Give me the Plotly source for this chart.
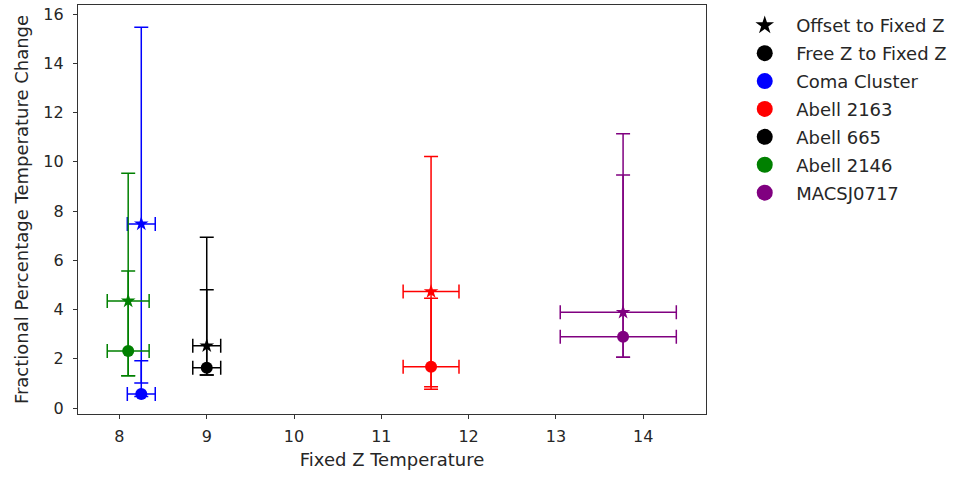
import plotly.graph_objects as go

clusters = ["Coma Cluster", "Abell 2163", "Abell 665", "Abell 2146", "MACSJ0717"]
colors = ["blue", "red", "black", "green", "purple"]
temp = [8.25, 11.57, 9.0, 8.1, 13.77]
temp_err_minus = [0.16, 0.32, 0.16, 0.24, 0.72]
temp_err_plus = [0.16, 0.32, 0.16, 0.24, 0.61]
offset_change = [7.48, 4.73, 2.53, 4.35, 3.89]
offset_err_plus = [7.99, 5.49, 4.41, 5.19, 7.25]
offset_err_minus = [6.46, 3.96, 1.19, 3.04, 1.83]
free_change = [0.57, 1.68, 1.64, 2.32, 2.90]
free_err_plus = [1.35, 2.78, 3.17, 3.25, 6.57]
free_err_minus = [0.10, 0.81, 0.30, 1.01, 0.84]

FONT = "DejaVu Sans"
TXT = "#262626"

fig = go.Figure()

for i, name in enumerate(clusters):
    c = colors[i]
    ex = dict(type="data", symmetric=False, array=[temp_err_plus[i]],
              arrayminus=[temp_err_minus[i]], color=c, thickness=1.5, width=7)
    fig.add_trace(go.Scatter(
        x=[temp[i]], y=[offset_change[i]], mode="markers", showlegend=False,
        marker=dict(symbol="star", size=11, color=c, line=dict(width=0)),
        error_x=ex,
        error_y=dict(type="data", symmetric=False, array=[offset_err_plus[i]],
                     arrayminus=[offset_err_minus[i]], color=c, thickness=1.5, width=7)))
    fig.add_trace(go.Scatter(
        x=[temp[i]], y=[free_change[i]], mode="markers", showlegend=False,
        marker=dict(symbol="circle", size=12, color=c, line=dict(width=0)),
        error_x=ex,
        error_y=dict(type="data", symmetric=False, array=[free_err_plus[i]],
                     arrayminus=[free_err_minus[i]], color=c, thickness=1.5, width=7)))

legend_names = ["Offset to Fixed Z", "Free Z to Fixed Z"] + clusters
legend_symbols = ["star", "circle"] + ["circle"] * len(clusters)
legend_colors = ["black", "black"] + colors
for k, (n, s, c) in enumerate(zip(legend_names, legend_symbols, legend_colors)):
    fig.add_trace(go.Scatter(
        x=[None], y=[None], mode="markers", name="\u00a0\u00a0" + n, legendgroup=f"g{k}",
        marker=dict(symbol=s, size=16 if s == "circle" else 14, color=c, line=dict(width=0))))

axis_common = dict(showline=True, linecolor="#333333", linewidth=1.2, mirror=True,
                   ticks="outside", ticklen=4, tickcolor="#333333", showgrid=False,
                   zeroline=False, tickfont=dict(family=FONT, size=16, color=TXT))

fig.update_layout(
    width=956, height=478,
    margin=dict(l=78, r=249, t=5, b=64),
    paper_bgcolor="white", plot_bgcolor="white",
    font=dict(family=FONT, size=18, color=TXT),
    xaxis=dict(range=[7.525, 14.72], tickvals=[8, 9, 10, 11, 12, 13, 14],
               ticklabelstandoff=4,
               title=dict(text="Fixed Z Temperature", font=dict(family=FONT, size=18, color=TXT), standoff=8),
               **axis_common),
    yaxis=dict(range=[-0.24, 16.37], tickvals=[0, 2, 4, 6, 8, 10, 12, 14, 16],
               ticklabelstandoff=6,
               title=dict(text="Fractional Percentage Temperature Change", font=dict(family=FONT, size=18, color=TXT), standoff=10),
               **axis_common),
    legend=dict(x=1.06, y=0.995, xanchor="left", yanchor="top", tracegroupgap=1.5,
                font=dict(family=FONT, size=18, color=TXT), bgcolor="rgba(0,0,0,0)",
                itemwidth=30),
)

fig.write_html("out.html")
